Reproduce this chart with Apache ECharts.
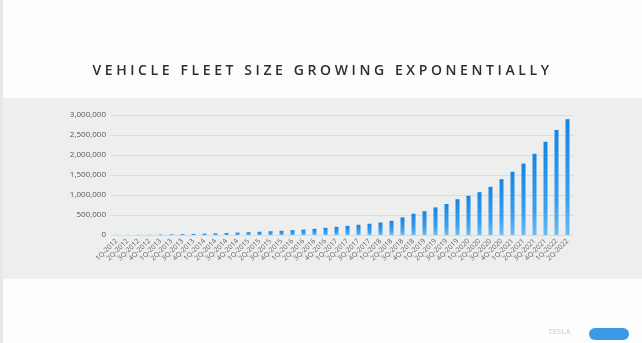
<!DOCTYPE html>
<html><head><meta charset="utf-8">
<script src="https://cdn.jsdelivr.net/npm/echarts@6/dist/echarts.min.js"></script>
<style>
html,body{margin:0;padding:0;background:#fcfdfc;}
#wrap{position:relative;width:642px;height:343px;}
#chart{position:absolute;left:0;top:0;width:642px;height:343px;}
#title{position:absolute;left:0;top:60px;width:642px;text-align:center;font-family:"Open Sans",sans-serif;font-weight:600;font-size:14px;letter-spacing:3.6px;color:#2e2e2e;white-space:nowrap;padding-left:3px;box-sizing:border-box;}
</style></head>
<body><div id="wrap"><div id="chart"></div><div id="title">VEHICLE FLEET SIZE GROWING EXPONENTIALLY</div></div>
<script>
const categories = ['1Q-2012','2Q-2012','3Q-2012','4Q-2012','1Q-2013','2Q-2013','3Q-2013','4Q-2013','1Q-2014','2Q-2014','3Q-2014','4Q-2014','1Q-2015','2Q-2015','3Q-2015','4Q-2015','1Q-2016','2Q-2016','3Q-2016','4Q-2016','1Q-2017','2Q-2017','3Q-2017','4Q-2017','1Q-2018','2Q-2018','3Q-2018','4Q-2018','1Q-2019','2Q-2019','3Q-2019','4Q-2019','1Q-2020','2Q-2020','3Q-2020','4Q-2020','1Q-2021','2Q-2021','3Q-2021','4Q-2021','1Q-2022','2Q-2022'];
const fleetSize = [2500,2600,2900,5000,10000,15000,20000,27000,34000,41000,49000,60000,70000,81000,93000,105000,120000,135000,155000,180000,205000,228000,255000,282000,312000,355000,440000,532000,595000,690000,775000,895000,980000,1070000,1205000,1395000,1580000,1785000,2030000,2330000,2625000,2895000];
const yTicks = [0,500000,1000000,1500000,2000000,2500000,3000000];

const chart = echarts.init(document.getElementById('chart'), null, {renderer:'canvas'});
chart.setOption({
  backgroundColor:'#fcfdfc',
  animation:false,
  graphic:[
    {type:'rect', z:-10, shape:{x:0,y:98,width:642,height:181}, style:{fill:'#edefee'}},
    {type:'rect', z:-9, shape:{x:0,y:0,width:3,height:343}, style:{fill:'#e6e8e7'}},
    {type:'text', left:548, top:328, style:{text:'TESLA', fill:'#c9cccc', font:'8px "Open Sans"'}},
    {type:'rect', shape:{x:589,y:328,width:40,height:12,r:6}, style:{fill:'#3a9ae8'}}
  ],
  grid:{left:111,right:69,top:115,bottom:108},
  xAxis:{
    type:'category', data:categories,
    axisLine:{show:false}, axisTick:{show:false},
    axisLabel:{interval:0, rotate:45, fontSize:7, color:'#666', margin:5, fontFamily:'Open Sans'}
  },
  yAxis:{
    type:'value', min:0, max:3000000, interval:500000,
    axisLine:{show:false}, axisTick:{show:false},
    splitLine:{lineStyle:{color:'#dadcdb', width:1}},
    axisLabel:{fontSize:8, color:'#555', margin:5, fontFamily:'Open Sans',
      formatter:v=>yTicks.includes(v)? v.toLocaleString('en-US') : ''}
  },
  series:[{
    type:'bar', data:fleetSize, barWidth:4,
    itemStyle:{color:new echarts.graphic.LinearGradient(0,0,0,1,[{offset:0,color:'#1585e4'},{offset:0.7,color:'#3a9ff0'},{offset:1,color:'#6cbcf2'}])}
  }]
});
</script></body></html>
